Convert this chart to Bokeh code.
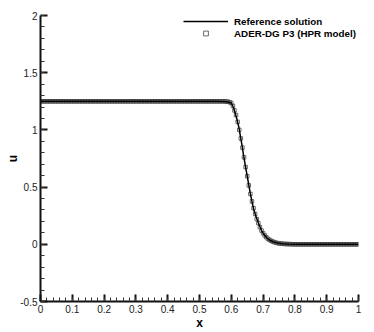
from bokeh.plotting import figure
from bokeh.models import (Range1d, FixedTicker, Legend, LegendItem, ColumnDataSource)
from bokeh.embed import file_html
from bokeh.resources import INLINE

# ---- data ----
x_ref = [0.0, 0.55, 0.58, 0.59, 0.60, 0.606, 0.612, 0.618, 0.624, 0.629, 0.634, 0.639,
         0.645, 0.652, 0.660, 0.666, 0.671, 0.678, 0.686, 0.695, 0.703, 0.712, 0.722,
         0.733, 0.745, 0.76, 0.78, 0.80, 1.0]
u_ref = [1.25, 1.25, 1.248, 1.244, 1.235, 1.20, 1.15, 1.09, 1.02, 0.94, 0.86, 0.77,
         0.675, 0.565, 0.44, 0.36, 0.30, 0.24, 0.18, 0.12, 0.085, 0.055, 0.035,
         0.02, 0.011, 0.005, 0.002, 0.0, 0.0]

x_dg = [0.000, 0.005, 0.010, 0.015, 0.020, 0.025, 0.030, 0.035, 0.040, 0.045,
        0.050, 0.055, 0.060, 0.065, 0.070, 0.075, 0.080, 0.085, 0.090, 0.095,
        0.100, 0.105, 0.110, 0.115, 0.120, 0.125, 0.130, 0.135, 0.140, 0.145,
        0.150, 0.155, 0.160, 0.165, 0.170, 0.175, 0.180, 0.185, 0.190, 0.195,
        0.200, 0.205, 0.210, 0.215, 0.220, 0.225, 0.230, 0.235, 0.240, 0.245,
        0.250, 0.255, 0.260, 0.265, 0.270, 0.275, 0.280, 0.285, 0.290, 0.295,
        0.300, 0.305, 0.310, 0.315, 0.320, 0.325, 0.330, 0.335, 0.340, 0.345,
        0.350, 0.355, 0.360, 0.365, 0.370, 0.375, 0.380, 0.385, 0.390, 0.395,
        0.400, 0.405, 0.410, 0.415, 0.420, 0.425, 0.430, 0.435, 0.440, 0.445,
        0.450, 0.455, 0.460, 0.465, 0.470, 0.475, 0.480, 0.485, 0.490, 0.495,
        0.500, 0.505, 0.510, 0.515, 0.520, 0.525, 0.530, 0.535, 0.540, 0.545,
        0.550, 0.555, 0.560, 0.565, 0.570, 0.575, 0.580, 0.585, 0.590, 0.595,
        0.600, 0.605, 0.610, 0.615, 0.620, 0.625, 0.630, 0.635, 0.640, 0.645,
        0.650, 0.655, 0.660, 0.665, 0.670, 0.675, 0.680, 0.685, 0.690, 0.695,
        0.700, 0.705, 0.710, 0.715, 0.720, 0.725, 0.730, 0.735, 0.740, 0.745,
        0.750, 0.755, 0.760, 0.765, 0.770, 0.775, 0.780, 0.785, 0.790, 0.795,
        0.800, 0.805, 0.810, 0.815, 0.820, 0.825, 0.830, 0.835, 0.840, 0.845,
        0.850, 0.855, 0.860, 0.865, 0.870, 0.875, 0.880, 0.885, 0.890, 0.895,
        0.900, 0.905, 0.910, 0.915, 0.920, 0.925, 0.930, 0.935, 0.940, 0.945,
        0.950, 0.955, 0.960, 0.965, 0.970, 0.975, 0.980, 0.985, 0.990, 0.995,
        1.000]
u_dg = [1.25, 1.25, 1.25, 1.25, 1.25, 1.25, 1.25, 1.25, 1.25, 1.25,
        1.25, 1.25, 1.25, 1.25, 1.25, 1.25, 1.25, 1.25, 1.25, 1.25,
        1.25, 1.25, 1.25, 1.25, 1.25, 1.25, 1.25, 1.25, 1.25, 1.25,
        1.25, 1.25, 1.25, 1.25, 1.25, 1.25, 1.25, 1.25, 1.25, 1.25,
        1.25, 1.25, 1.25, 1.25, 1.25, 1.25, 1.25, 1.25, 1.25, 1.25,
        1.25, 1.25, 1.25, 1.25, 1.25, 1.25, 1.25, 1.25, 1.25, 1.25,
        1.25, 1.25, 1.25, 1.25, 1.25, 1.25, 1.25, 1.25, 1.25, 1.25,
        1.25, 1.25, 1.25, 1.25, 1.25, 1.25, 1.25, 1.25, 1.25, 1.25,
        1.25, 1.25, 1.25, 1.25, 1.25, 1.25, 1.25, 1.25, 1.25, 1.25,
        1.25, 1.25, 1.25, 1.25, 1.25, 1.25, 1.25, 1.25, 1.25, 1.25,
        1.25, 1.25, 1.25, 1.25, 1.25, 1.25, 1.25, 1.25, 1.25, 1.25,
        1.25, 1.25, 1.25, 1.25, 1.25, 1.25, 1.249, 1.248, 1.246, 1.242,
        1.235, 1.21, 1.17, 1.13, 1.07, 1.00, 0.925, 0.845, 0.76, 0.675,
        0.595, 0.515, 0.44, 0.375, 0.315, 0.265, 0.22, 0.185, 0.15, 0.12,
        0.097, 0.078, 0.062, 0.049, 0.039, 0.031, 0.024, 0.019, 0.014, 0.011,
        0.008, 0.006, 0.005, 0.004, 0.003, 0.002, 0.002, 0.001, 0.001, 0.0,
        0.0, 0.0, 0.0, 0.0, 0.0, 0.0, 0.0, 0.0, 0.0, 0.0,
        0.0, 0.0, 0.0, 0.0, 0.0, 0.0, 0.0, 0.0, 0.0, 0.0,
        0.0, 0.0, 0.0, 0.0, 0.0, 0.0, 0.0, 0.0, 0.0, 0.0,
        0.0, 0.0, 0.0, 0.0, 0.0, 0.0, 0.0, 0.0, 0.0, 0.0,
        0.0]

x_ticks = [0, 0.1, 0.2, 0.3, 0.4, 0.5, 0.6, 0.7, 0.8, 0.9, 1]
x_tick_labels = ["0", "0.1", "0.2", "0.3", "0.4", "0.5", "0.6", "0.7", "0.8", "0.9", "1"]
x_minor = [0, 0.02, 0.04, 0.06, 0.08, 0.1, 0.12, 0.14, 0.16, 0.18, 0.2, 0.22, 0.24, 0.26, 0.28,
           0.3, 0.32, 0.34, 0.36, 0.38, 0.4, 0.42, 0.44, 0.46, 0.48, 0.5, 0.52, 0.54, 0.56, 0.58,
           0.6, 0.62, 0.64, 0.66, 0.68, 0.7, 0.72, 0.74, 0.76, 0.78, 0.8, 0.82, 0.84, 0.86, 0.88,
           0.9, 0.92, 0.94, 0.96, 0.98, 1]
y_ticks = [-0.5, 0, 0.5, 1, 1.5, 2]
y_tick_labels = ["-0.5", "0", "0.5", "1", "1.5", "2"]
y_minor = [-0.5, -0.4, -0.3, -0.2, -0.1, 0, 0.1, 0.2, 0.3, 0.4, 0.5, 0.6, 0.7, 0.8, 0.9, 1,
           1.1, 1.2, 1.3, 1.4, 1.5, 1.6, 1.7, 1.8, 1.9, 2]

FONT = "Liberation Sans"

p = figure(width=374, height=332, output_backend="svg", toolbar_location=None,
           x_range=Range1d(0, 1), y_range=Range1d(-0.5, 2),
           min_border_left=40, min_border_right=16, min_border_top=15, min_border_bottom=29,
           x_axis_label="x", y_axis_label="u")
p.outline_line_color = None
p.grid.visible = False
p.background_fill_color = "white"
p.border_fill_color = "white"

p.xaxis.ticker = FixedTicker(ticks=x_ticks, minor_ticks=x_minor)
p.yaxis.ticker = FixedTicker(ticks=y_ticks, minor_ticks=y_minor)
p.xaxis.major_label_overrides = dict(zip(x_ticks, x_tick_labels))
p.yaxis.major_label_overrides = dict(zip(y_ticks, y_tick_labels))

for ax in (p.xaxis, p.yaxis):
    ax.axis_line_width = 2
    ax.axis_line_color = "#111111"
    ax.major_tick_in = 7
    ax.major_tick_out = 0
    ax.minor_tick_in = 4
    ax.minor_tick_out = 0
    ax.major_tick_line_width = 2
    ax.major_tick_line_color = "#111111"
    ax.minor_tick_line_width = 1
    ax.minor_tick_line_color = "#333333"
    ax.major_label_text_font = FONT
    ax.major_label_text_font_size = "10px"
    ax.major_label_text_color = "#222222"
    ax.major_label_standoff = 3
    ax.axis_label_text_font = FONT
    ax.axis_label_text_font_size = "12px"
    ax.axis_label_text_font_style = "bold"
    ax.axis_label_text_color = "black"
    ax.axis_label_standoff = 0
p.yaxis.axis_label_standoff = -3

src_dg = ColumnDataSource(dict(x=x_dg, u=u_dg))
src_ref = ColumnDataSource(dict(x=x_ref, u=u_ref))

r_dg = p.scatter("x", "u", source=src_dg, marker="square", size=3.5,
                 line_color="#444444", line_width=0.8, fill_color="white", fill_alpha=0)
r_ref = p.line("x", "u", source=src_ref, line_color="black", line_width=1.5)

legend = Legend(items=[LegendItem(label="Reference solution", renderers=[r_ref]),
                       LegendItem(label="ADER-DG P3 (HPR model)", renderers=[r_dg])],
                location=(143, 262), padding=0, margin=0, spacing=0,
                glyph_width=45, glyph_height=12, label_height=12, label_standoff=6,
                border_line_color=None, background_fill_alpha=0,
                label_text_font=FONT, label_text_font_size="9.8px",
                label_text_font_style="bold", label_text_color="black")
p.add_layout(legend)

open("out.html", "w").write(file_html(p, INLINE))
